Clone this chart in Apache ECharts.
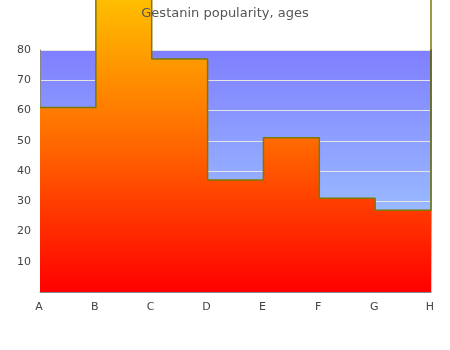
<!DOCTYPE html>
<html><head><meta charset="utf-8">
<script src="https://cdn.jsdelivr.net/npm/echarts@6/dist/echarts.min.js"></script>
<style>html,body{margin:0;padding:0;background:#fff}#c{width:450px;height:350px}</style>
</head><body><div id="c"></div>
<script>
var categories = ['A','B','C','D','E','F','G','H'];
var popularity = [61, 100, 77, 37, 51, 31, 27, 100];
var yTicks = [0, 10, 20, 30, 40, 50, 60, 70, 80];
var titleText = 'Gestanin popularity, ages';

var chart = echarts.init(document.getElementById('c'), null, {renderer: 'canvas'});
chart.setOption({
  animation: false,
  title: {
    text: titleText, left: 'center', top: 2,
    textStyle: {fontFamily: 'DejaVu Sans', fontSize: 13, fontWeight: 'normal', color: '#555'}
  },
  grid: {
    left: 40, right: 19, top: 50, bottom: 58, show: true,
    backgroundColor: new echarts.graphic.LinearGradient(0, 0, 0, 1, [
      {offset: 0, color: '#7f7fff'}, {offset: 1, color: '#a6d6ff'}
    ]),
    borderWidth: 0
  },
  xAxis: {
    type: 'category', data: categories, boundaryGap: false,
    axisLine: {show: true, lineStyle: {color: '#888', width: 1}},
    axisTick: {show: false},
    axisLabel: {color: '#444', fontFamily: 'DejaVu Sans', fontSize: 11, margin: 10, padding: [0, 2, 0, 0]},
    splitLine: {show: false}
  },
  yAxis: [{
    type: 'value', min: yTicks[0], max: yTicks[yTicks.length - 1], interval: 10,
    axisLine: {show: true, lineStyle: {color: '#888', width: 1}},
    axisTick: {show: false},
    axisLabel: {color: '#444', fontFamily: 'DejaVu Sans', fontSize: 11, margin: 9,
      formatter: function (v) { return v === 0 ? '' : String(v); }},
    splitLine: {show: true, lineStyle: {color: '#e4e4e4', width: 1}}
  }, {
    type: 'value', position: 'right', min: yTicks[0], max: yTicks[yTicks.length - 1], interval: 10,
    axisLine: {show: true, lineStyle: {width: 1.5, color: new echarts.graphic.LinearGradient(0, 0, 0, 1, [
      {offset: 0, color: '#00009a'}, {offset: 1, color: '#80e0ff'}
    ])}},
    axisTick: {show: false}, axisLabel: {show: false}, splitLine: {show: false}
  }],
  series: [{
    type: 'line', data: popularity, step: 'end', clip: false,
    symbol: 'none', z: 3,
    lineStyle: {color: '#7a7a00', width: 1.5},
    areaStyle: {
      opacity: 1,
      origin: 'start',
      color: new echarts.graphic.LinearGradient(0, 0, 0, 1, [
        {offset: 0, color: '#ffc400'}, {offset: 0.5, color: '#ff6a00'}, {offset: 1, color: '#ff0000'}
      ])
    }
  }]
});
</script></body></html>
